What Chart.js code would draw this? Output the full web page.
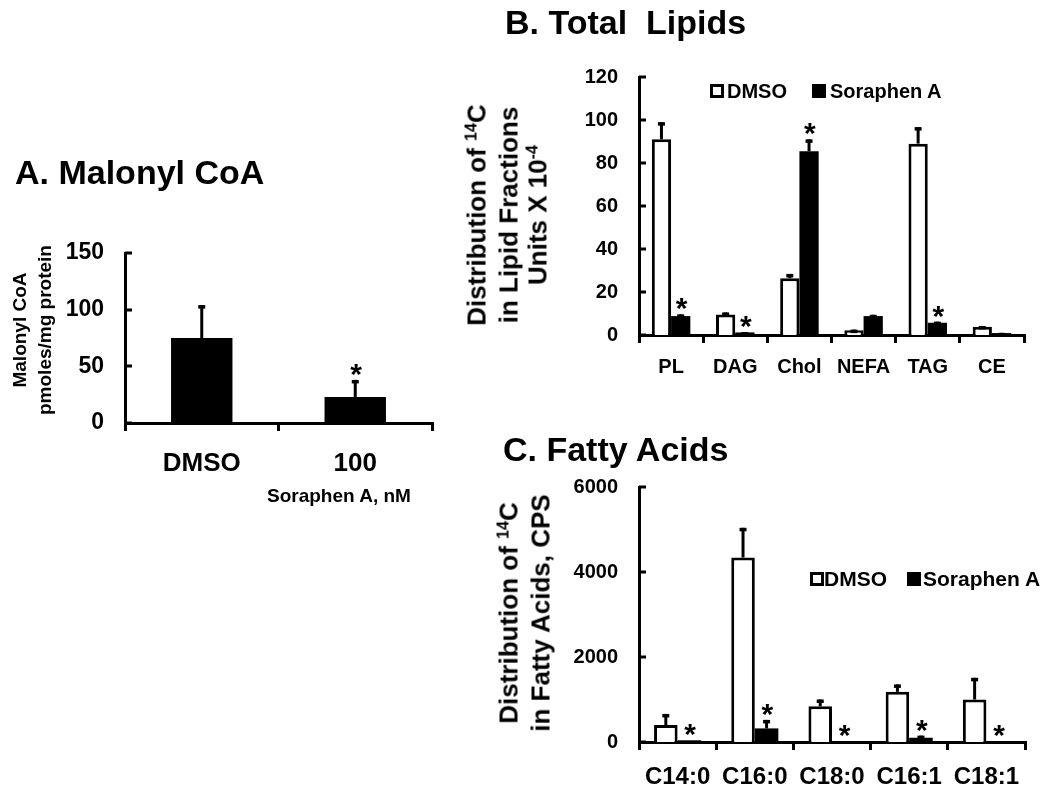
<!DOCTYPE html>
<html>
<head>
<meta charset="utf-8">
<script src="https://cdn.jsdelivr.net/npm/chart.js@4/dist/chart.umd.min.js"></script>
<style>
body{margin:0;background:#fff;width:1050px;height:795px;position:relative;overflow:hidden;
font-family:"Liberation Sans",Arial,sans-serif;font-weight:bold;color:#000}
canvas{position:absolute;left:0;top:0}
.t{position:absolute;white-space:nowrap;line-height:1}
.rot{position:absolute;white-space:nowrap;text-align:center;transform:translate(-50%,-50%) rotate(-90deg)}
sup{font-size:62%;vertical-align:baseline;position:relative;top:-0.55em}
.box{position:absolute;width:14px;height:14px;box-sizing:border-box}
.w{border:3.5px solid #000;background:#fff}
.k{background:#000}
</style>
</head>
<body>
<canvas id="chartA" width="1050" height="795"></canvas>
<canvas id="chartB" width="1050" height="795"></canvas>
<canvas id="chartC" width="1050" height="795"></canvas>

<div class="t" style="left:15px;top:155px;font-size:34px">A. Malonyl CoA</div>
<div class="t" style="left:505px;top:5px;font-size:34px">B. Total&nbsp; Lipids</div>
<div class="t" style="left:503px;top:432px;font-size:34px">C. Fatty Acids</div>

<div class="rot" style="left:32px;top:330px;font-size:19px;line-height:25px">Malonyl CoA<br>pmoles/mg protein</div>
<div class="rot" style="left:509px;top:215px;font-size:26px;line-height:29px">Distribution of <sup>14</sup>C<br>in Lipid Fractions<br>Units X 10<sup>-4</sup></div>
<div class="rot" style="left:525px;top:613px;font-size:26px;line-height:29px">Distribution of <sup>14</sup>C<br>in Fatty Acids, CPS</div>
<div class="t" style="left:267px;top:486px;font-size:19px">Soraphen A, nM</div>

<div class="box w" style="left:710px;top:84px"></div>
<div class="t" style="left:727px;top:81px;font-size:20px">DMSO</div>
<div class="box k" style="left:812px;top:84px"></div>
<div class="t" style="left:830px;top:81px;font-size:20px">Soraphen A</div>

<div class="box w" style="left:810px;top:572px"></div>
<div class="t" style="left:824px;top:568px;font-size:21px">DMSO</div>
<div class="box k" style="left:907px;top:572px"></div>
<div class="t" style="left:923px;top:568px;font-size:21px">Soraphen A</div>

<script>
// ---------- A. Malonyl CoA ----------
const aLabels = ['DMSO', '100']
const aValues = [75, 23]
const aErrors = [29, 15]
const aStars = [false, true]

// ---------- B. Total Lipids ----------
const bLabels = ['PL', 'DAG', 'Chol', 'NEFA', 'TAG', 'CE']
const bDmso = [91, 9.5, 26.4, 2.2, 89, 3.8]
const bDmsoErr = [8, 1, 2, 0.3, 7.7, 0.4]
const bSor = [8.8, 1.2, 85.5, 8.8, 5.7, 0.9]
const bSorErr = [0.8, 0.2, 5.5, 0.6, 0.5, 0.1]
const bSorStars = [true, true, true, false, true, false]

// ---------- C. Fatty Acids ----------
const cLabels = ['C14:0', 'C16:0', 'C18:0', 'C16:1', 'C18:1']
const cDmso = [400, 4340, 840, 1180, 1000]
const cDmsoErr = [260, 700, 160, 175, 510]
const cSor = [40, 320, 20, 100, 15]
const cSorErr = [0, 200, 0, 50, 0]
const cSorStars = [true, true, true, true, true]

const FONT = '"Liberation Sans", Arial, sans-serif'

// error bars, asterisks and inward y ticks
const extras = {
  id: 'extras',
  afterDatasetsDraw(chart) {
    const ctx = chart.ctx
    const y = chart.scales.y
    ctx.save()
    ctx.fillStyle = '#000'
    ctx.strokeStyle = '#000'
    chart.data.datasets.forEach((ds, i) => {
      const meta = chart.getDatasetMeta(i)
      meta.data.forEach((bar, j) => {
        const v = ds.data[j]
        const e = ds.errors ? ds.errors[j] : 0
        let top = y.getPixelForValue(v)
        if (e > 0) {
          const et = y.getPixelForValue(v + e)
          ctx.lineWidth = 3
          ctx.beginPath()
          ctx.moveTo(bar.x, top)
          ctx.lineTo(bar.x, et)
          ctx.stroke()
          ctx.fillRect(bar.x - 3.5, et, 7, 3.5)
          top = et
        }
        if (ds.stars && ds.stars[j]) {
          ctx.font = 'bold 30px ' + FONT
          const m = ctx.measureText('*')
          const inkW = m.actualBoundingBoxLeft + m.actualBoundingBoxRight
          const x = bar.x + 1 - inkW / 2 + m.actualBoundingBoxLeft
          const base = top - 4 - m.actualBoundingBoxDescent
          ctx.textAlign = 'left'
          ctx.textBaseline = 'alphabetic'
          ctx.fillText('*', x, base)
        }
      })
    })
    ctx.restore()
  },
  afterDraw(chart) {
    const ctx = chart.ctx
    const y = chart.scales.y
    const left = chart.chartArea.left
    ctx.save()
    ctx.strokeStyle = '#000'
    ctx.lineWidth = 3
    y.ticks.forEach(t => {
      const py = Math.round(y.getPixelForValue(t.value))
      ctx.beginPath()
      ctx.moveTo(left, py)
      ctx.lineTo(left + 7, py)
      ctx.stroke()
    })
    ctx.restore()
  }
}

function makeChart(id, area, labels, datasets, yMax, yStep, yFont, xFont, xPad, catPct) {
  const xH = 60
  return new Chart(document.getElementById(id), {
    type: 'bar',
    data: { labels: labels, datasets: datasets },
    options: {
      responsive: false,
      animation: false,
      layout: { padding: { left: 0, top: area.t, right: 1050 - area.r, bottom: 795 - area.b - xH } },
      plugins: { legend: { display: false }, tooltip: { enabled: false } },
      datasets: { bar: { categoryPercentage: catPct, barPercentage: 1 } },
      scales: {
        x: {
          z: 1,
          grid: { display: true, drawOnChartArea: false, drawTicks: true, tickLength: 8, lineWidth: 3, color: '#000', offset: true },
          border: { display: true, width: 3, color: '#000' },
          ticks: { color: '#000', padding: xPad, maxRotation: 0, font: { family: FONT, weight: 'bold', size: xFont } },
          afterFit: s => { s.height = xH }
        },
        y: {
          z: 1,
          min: 0,
          max: yMax,
          grid: { display: false, drawTicks: false },
          border: { display: true, width: 3, color: '#000' },
          ticks: {
            stepSize: yStep, color: '#000', padding: 21,
            font: { family: FONT, weight: 'bold', size: yFont },
            callback: v => String(v)
          },
          afterFit: s => { s.width = area.l }
        }
      }
    },
    plugins: [extras]
  })
}

makeChart('chartA', { l: 125, t: 253, r: 432, b: 423 }, aLabels, [
  { label: 'Malonyl CoA', data: aValues, errors: aErrors, stars: aStars, backgroundColor: '#000', borderWidth: 0 }
], 150, 50, 23, 26, 17, 0.4)

makeChart('chartB', { l: 639, t: 77, r: 1024, b: 335 }, bLabels, [
  { label: 'DMSO', data: bDmso, errors: bDmsoErr, backgroundColor: '#fff', borderColor: '#000', borderWidth: 3 },
  { label: 'Soraphen A', data: bSor, errors: bSorErr, stars: bSorStars, backgroundColor: '#000', borderWidth: 0 }
], 120, 20, 20, 20, 12, 0.6)

makeChart('chartC', { l: 639, t: 487, r: 1025, b: 742 }, cLabels, [
  { label: 'DMSO', data: cDmso, errors: cDmsoErr, backgroundColor: '#fff', borderColor: '#000', borderWidth: 3 },
  { label: 'Soraphen A', data: cSor, errors: cSorErr, stars: cSorStars, backgroundColor: '#000', borderWidth: 0 }
], 6000, 2000, 20, 24, 13, 0.61)
</script>
</body>
</html>
